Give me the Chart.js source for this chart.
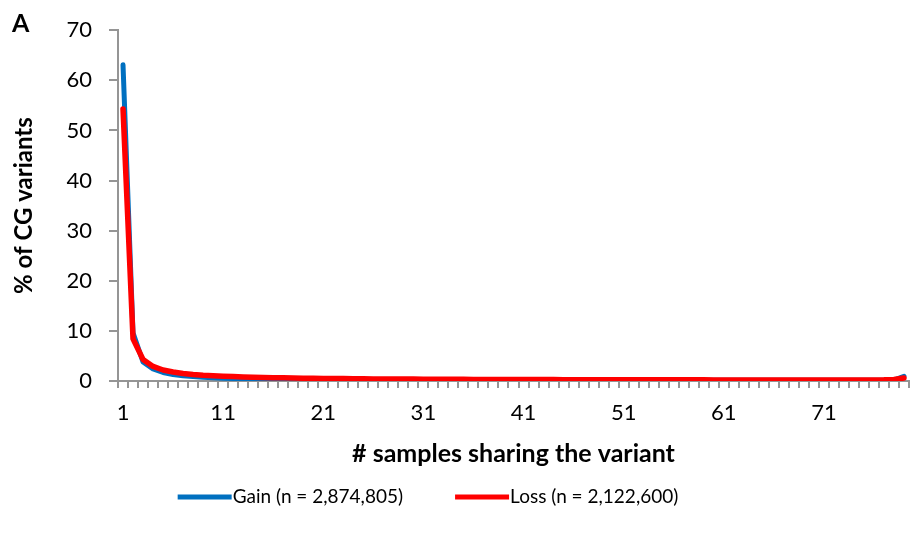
<!DOCTYPE html>
<html>
<head>
<meta charset="utf-8">
<script src="https://cdn.jsdelivr.net/npm/chart.js@4.4.1/dist/chart.umd.min.js"></script>
<style>
  html, body { margin: 0; padding: 0; background: #fff; }
  #wrap { width: 916px; height: 543px; }
</style>
</head>
<body>
<div id="wrap"><canvas id="myChart" width="916" height="543"></canvas></div>
<script>
// categories: number of samples sharing the variant (1..79)
const samples = [];
for (let i = 1; i <= 79; i++) samples.push(String(i));

const shownTicks = ['1', '11', '21', '31', '41', '51', '61', '71'];
const yTicks = [0, 10, 20, 30, 40, 50, 60, 70];

// % of CG variants
const gain = [
  63.1, 9.6, 3.8, 2.4, 1.7, 1.3, 1.05, 0.88, 0.75, 0.65,
  0.57, 0.5, 0.45, 0.41, 0.38, 0.35, 0.32, 0.3, 0.28, 0.26,
  0.25, 0.24, 0.23, 0.22, 0.21, 0.2, 0.19, 0.19, 0.18, 0.18,
  0.17, 0.17, 0.17, 0.16, 0.16, 0.16, 0.16, 0.15, 0.15, 0.15,
  0.15, 0.15, 0.14, 0.14, 0.14, 0.14, 0.14, 0.14, 0.14, 0.13,
  0.13, 0.13, 0.13, 0.13, 0.13, 0.13, 0.13, 0.13, 0.13, 0.13,
  0.13, 0.13, 0.13, 0.13, 0.13, 0.13, 0.13, 0.13, 0.13, 0.13,
  0.13, 0.13, 0.13, 0.14, 0.14, 0.14, 0.15, 0.2, 0.95
];
const loss = [
  54.3, 8.4, 4.3, 2.9, 2.2, 1.8, 1.5, 1.3, 1.15, 1.05,
  0.95, 0.88, 0.82, 0.76, 0.71, 0.67, 0.63, 0.6, 0.57, 0.54,
  0.52, 0.5, 0.48, 0.46, 0.44, 0.42, 0.41, 0.4, 0.39, 0.38,
  0.37, 0.36, 0.35, 0.34, 0.33, 0.32, 0.31, 0.31, 0.3, 0.3,
  0.29, 0.29, 0.28, 0.28, 0.27, 0.27, 0.26, 0.26, 0.26, 0.25,
  0.25, 0.25, 0.24, 0.24, 0.24, 0.23, 0.23, 0.23, 0.23, 0.22,
  0.22, 0.22, 0.22, 0.22, 0.21, 0.21, 0.21, 0.21, 0.21, 0.21,
  0.21, 0.21, 0.21, 0.21, 0.22, 0.22, 0.23, 0.3, 0.6
];

const seriesNames = ['Gain (n = 2,874,805)', 'Loss (n = 2,122,600)'];
const seriesColors = ['#0070C0', '#FF0000'];

const FONT = 'Lato, "Open Sans", sans-serif';
const axisGray = '#959595';

// legend + panel letter, drawn Excel-style
const extras = {
  id: 'extras',
  afterDraw(chart) {
    const ctx = chart.ctx;
    ctx.save();
    ctx.fillStyle = '#000';
    ctx.font = 'bold 25px ' + FONT;
    ctx.textBaseline = 'alphabetic';
    ctx.textAlign = 'left';
    ctx.fillText('A', 12, 32);

    ctx.font = '19px ' + FONT;
    ctx.textBaseline = 'middle';
    const lineW = 54, gap = 52, y = 497;
    const widths = seriesNames.map(n => ctx.measureText(n).width);
    const total = lineW * 2 + widths[0] + widths[1] + gap + 2;
    let x = 428 - total / 2;
    seriesNames.forEach((name, i) => {
      ctx.strokeStyle = seriesColors[i];
      ctx.lineWidth = 5;
      ctx.lineCap = 'butt';
      ctx.beginPath();
      ctx.moveTo(x, y);
      ctx.lineTo(x + lineW, y);
      ctx.stroke();
      x += lineW + 1;
      ctx.fillStyle = '#000';
      ctx.fillText(name, x, y);
      x += widths[i] + gap;
    });
    ctx.restore();
  }
};

const data = {
  labels: samples,
  datasets: [{
    label: seriesNames[0],
    data: gain,
    borderColor: seriesColors[0],
    backgroundColor: seriesColors[0],
    borderWidth: 5,
    pointRadius: 0,
    tension: 0,
    borderCapStyle: 'round',
    borderJoinStyle: 'round',
    order: 1
  }, {
    label: seriesNames[1],
    data: loss,
    borderColor: seriesColors[1],
    backgroundColor: seriesColors[1],
    borderWidth: 5.5,
    pointRadius: 0,
    tension: 0,
    borderCapStyle: 'round',
    borderJoinStyle: 'round',
    order: 0
  }]
};

const config = {
  type: 'line',
  data,
  options: {
    responsive: false,
    animation: false,
    layout: { padding: { left: 0, right: 2, top: 22, bottom: 65 } },
    scales: {
      x: {
        type: 'category',
        offset: true,
        afterFit(scale) { scale.height = 97; },
        grid: {
          offset: true,
          drawOnChartArea: false,
          drawTicks: true,
          tickLength: 7,
          color: axisGray,
          lineWidth: 2
        },
        border: { display: true, color: axisGray, width: 2 },
        ticks: {
          autoSkip: false,
          maxRotation: 0,
          padding: 12,
          color: '#000',
          font: { family: FONT, size: 22 },
          callback(value, index) {
            const lab = this.getLabelForValue(value);
            return shownTicks.includes(lab) ? lab : '';
          }
        },
        title: {
          display: true,
          text: '# samples sharing the variant',
          color: '#000',
          font: { family: FONT, size: 25, weight: 'bold' },
          padding: { top: 0, bottom: 9 }
        }
      },
      y: {
        min: yTicks[0],
        max: yTicks[yTicks.length - 1],
        afterFit(scale) { scale.width = 118; },
        grid: {
          drawOnChartArea: false,
          drawTicks: true,
          tickLength: 9,
          color: axisGray,
          lineWidth: 2
        },
        border: { display: true, color: axisGray, width: 2 },
        ticks: {
          stepSize: 10,
          padding: 17,
          color: '#000',
          font: { family: FONT, size: 22 }
        },
        title: {
          display: true,
          text: '% of CG variants',
          color: '#000',
          font: { family: FONT, size: 24, weight: 'bold' },
          padding: { top: 10, bottom: 0 }
        }
      }
    },
    plugins: {
      legend: { display: false },
      tooltip: { enabled: false }
    }
  },
  plugins: [extras]
};

const myChart = new Chart(document.getElementById('myChart'), config);
</script>
</body>
</html>
